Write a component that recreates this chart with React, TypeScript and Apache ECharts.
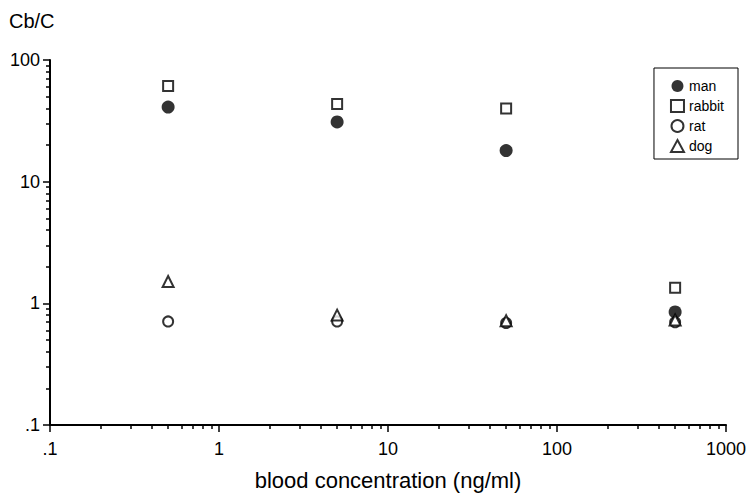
import React, { useEffect, useRef } from "react";
import * as echarts from "echarts";

const concentrations = [0.5, 5, 50, 500];
const man = [41, 31, 18, 0.85];
const rabbit = [61, 43.5, 40, 1.34];
const rat = [0.71, 0.71, 0.69, 0.7];
const dog = [1.51, 0.8, 0.72, 0.73];
const xMinorTicks = [0.2, 0.3, 0.4, 0.5, 0.6, 0.7, 0.8, 0.9, 2, 3, 4, 5, 6, 7, 8, 9, 20, 30, 40, 50, 60, 70, 80, 90, 200, 300, 400, 500, 600, 700, 800, 900];
const yMinorTicks = [0.2, 0.3, 0.4, 0.5, 0.6, 0.7, 0.8, 0.9, 2, 3, 4, 5, 6, 7, 8, 9, 20, 30, 40, 50, 60, 70, 80, 90];

const FONT = "Liberation Sans, Arial, sans-serif";
const fmt = (v: number) => (Math.abs(v - 0.1) < 1e-9 ? ".1" : String(Math.round(v)));

const pairs = (ys: number[]) => concentrations.map((x, i) => [x, ys[i]]);

export default function App() {
  const ref = useRef<HTMLDivElement>(null);
  useEffect(() => {
    if (!ref.current) return;
    const chart = echarts.init(ref.current, null, { renderer: "svg" });
    const axisLine = { show: true, onZero: false, lineStyle: { color: "#000", width: 2 } };
    const hiddenLine = { show: false, onZero: false };
    chart.setOption({
      animation: false,
      backgroundColor: "#fff",
      title: {
        text: "Cb/C",
        left: 4,
        top: 6,
        textStyle: { fontFamily: FONT, fontSize: 20, fontWeight: "normal", color: "#000" },
      },
      grid: { left: 50, right: 22, top: 60, bottom: 70, outerBoundsMode: "none", containLabel: false },
      legend: {
        orient: "vertical",
        right: 10,
        top: 68,
        borderColor: "#000",
        borderWidth: 1,
        padding: [11, 14, 6, 16],
        itemGap: 6,
        itemWidth: 13,
        itemHeight: 12,
        textStyle: { fontFamily: FONT, fontSize: 14, lineHeight: 14, color: "#000" },
        data: ["man", "rabbit", "rat", "dog"],
      },
      xAxis: [
        {
          type: "log",
          logBase: 10,
          min: 0.1,
          max: 1000,
          name: "blood concentration (ng/ml)",
          nameLocation: "middle",
          nameGap: 44,
          nameTextStyle: { fontFamily: FONT, fontSize: 22, color: "#000" },
          axisLine,
          axisTick: { show: true, length: 7, lineStyle: { color: "#000", width: 1.5 } },
          axisLabel: { fontFamily: FONT, fontSize: 18, color: "#000", margin: 15, formatter: fmt },
          splitLine: { show: false },
        },
        {
          type: "value",
          min: -1,
          max: 3,
          position: "bottom",
          axisLine: hiddenLine,
          axisTick: {
            show: true,
            length: 4,
            customValues: xMinorTicks.map((v) => Math.log10(v)),
            lineStyle: { color: "#000", width: 1.5 },
          },
          axisLabel: { show: false },
          splitLine: { show: false },
        },
      ],
      yAxis: [
        {
          type: "log",
          logBase: 10,
          min: 0.1,
          max: 100,
          axisLine,
          axisTick: { show: true, length: 7, lineStyle: { color: "#000", width: 1.5 } },
          axisLabel: { fontFamily: FONT, fontSize: 18, color: "#000", margin: 10, formatter: fmt },
          splitLine: { show: false },
        },
        {
          type: "value",
          min: -1,
          max: 2,
          position: "left",
          axisLine: hiddenLine,
          axisTick: {
            show: true,
            length: 4,
            customValues: yMinorTicks.map((v) => Math.log10(v)),
            lineStyle: { color: "#000", width: 1.5 },
          },
          axisLabel: { show: false },
          splitLine: { show: false },
        },
      ],
      series: [
        {
          name: "man",
          type: "scatter",
          symbol: "circle",
          symbolSize: 13,
          z: 1,
          itemStyle: { color: "#000", borderColor: "#000", borderWidth: 0 },
          data: pairs(man),
        },
        {
          name: "rabbit",
          type: "scatter",
          symbol: "rect",
          symbolSize: 10,
          z: 2,
          itemStyle: { color: "#fff", borderColor: "#000", borderWidth: 2 },
          data: pairs(rabbit),
        },
        {
          name: "rat",
          type: "scatter",
          symbol: "circle",
          symbolSize: 10,
          z: 2,
          itemStyle: { color: "#fff", borderColor: "#000", borderWidth: 2 },
          data: pairs(rat),
        },
        {
          name: "dog",
          type: "scatter",
          symbol: "triangle",
          symbolSize: 11,
          z: 3,
          itemStyle: { color: "#fff", borderColor: "#000", borderWidth: 2 },
          data: pairs(dog),
        },
      ],
    });
    return () => chart.dispose();
  }, []);
  return <div ref={ref} style={{ position: "absolute", left: 0, top: 0, width: 748, height: 495 }} />;
}
